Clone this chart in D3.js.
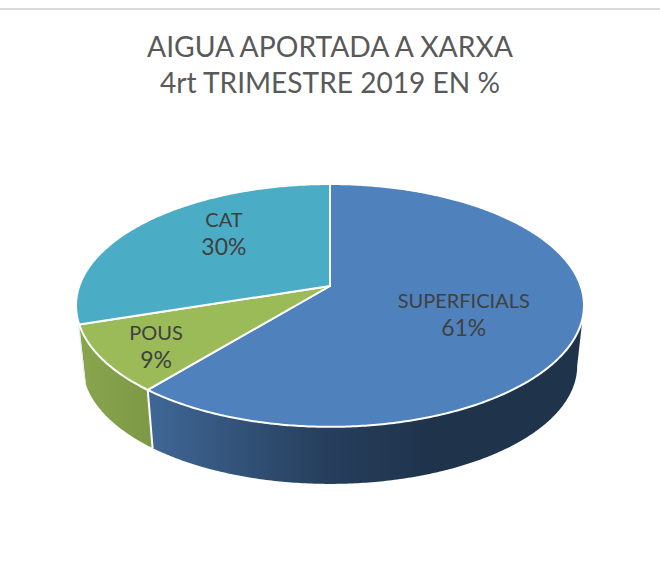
<!DOCTYPE html>
<html>
<head>
<meta charset="utf-8">
<script src="https://cdn.jsdelivr.net/npm/d3@7"></script>
<style>
  html, body { margin: 0; padding: 0; background: #fff; }
  svg { display: block; }
  text { font-family: "Lato", sans-serif; }
</style>
</head>
<body>
<div id="chart"></div>
<script>
const titleLines = ["AIGUA APORTADA A XARXA", "4rt TRIMESTRE 2019 EN %"];
const categories = ["SUPERFICIALS", "POUS", "CAT"];
const values = [61, 9, 30];
const topColors = ["#4f81bd", "#9bbb59", "#4bacc6"];

// where each label sits: fraction of the radius, then a nudge upward
const labelRadius = [0.55, 0.78, 0.55];
const labelLift = [-6, -5, 16];

const width = 660, height = 573;
const svg = d3.select("#chart").append("svg")
  .attr("width", width)
  .attr("height", height);

// top rule
svg.append("line")
  .attr("x1", 0).attr("x2", width)
  .attr("y1", 9).attr("y2", 9)
  .style("stroke", "#d9d9d9")
  .style("stroke-width", 2);

svg.selectAll(".title").data(titleLines).enter().append("text")
  .attr("class", "title")
  .attr("x", 330)
  .attr("y", (d, i) => 57 + i * 36)
  .attr("text-anchor", "middle")
  .attr("textLength", (d, i) => i === 0 ? 366 : 340)
  .attr("lengthAdjust", "spacingAndGlyphs")
  .style("fill", "#595959")
  .style("font-size", "29px")
  .text(d => d);

// gradients for the side wall
const defs = svg.append("defs");
function wallGradient(id, x1, x2, stops) {
  const g = defs.append("linearGradient").attr("id", id)
    .attr("gradientUnits", "userSpaceOnUse")
    .attr("x1", x1).attr("x2", x2).attr("y1", 0).attr("y2", 0);
  stops.forEach(s => g.append("stop").attr("offset", s[0]).attr("stop-color", s[1]));
}
wallGradient("wall-0", 150, 430, [[0, "#3f6796"], [0.6, "#27405e"], [1, "#1f334b"]]);
wallGradient("wall-1", 80, 150, [[0, "#88a54e"], [1, "#7e9945"]]);
wallGradient("wall-2", 76, 84, [[0, "#d3e5ec"], [1, "#e6f0f4"]]);

// pie tilted with some perspective: the back of the disc is further away
const persp = 0.16;
const topDisc = { cx: 330, cy: 286, rx: 250.7, ry: 118.3 };
const baseDisc = { cx: 330, cy: 347, rx: 244, ry: 115 };
function project(disc, angle, f) {
  const s = Math.sin(angle) * f, c = Math.cos(angle) * f;
  const den = 1 + persp * c;
  return [disc.cx + disc.rx * s / den, disc.cy - disc.ry * c / den];
}
function rim(disc, a0, a1) {
  const n = Math.max(2, Math.ceil(Math.abs(a1 - a0) / 0.01));
  return d3.range(n + 1).map(i => project(disc, a0 + (a1 - a0) * i / n, 1));
}

const pie = d3.pie().sort(null).startAngle(0).endAngle(2 * Math.PI);
const slices = pie(values);
const line = d3.line();

// only the front half of the wall shows, from the right to the left silhouette
const wallStart = Math.PI - Math.acos(persp);
const wallEnd = Math.PI + Math.acos(persp);

slices.forEach((d, i) => {
  const a0 = Math.max(d.startAngle, wallStart);
  const a1 = Math.min(d.endAngle, wallEnd);
  if (a1 <= a0) return;
  const pts = rim(topDisc, a0, a1).concat(rim(baseDisc, a0, a1).reverse());
  svg.append("path")
    .attr("d", line(pts) + "Z")
    .style("fill", `url(#wall-${i})`);
});

// seam between the blue and green walls
const seam = slices[0].endAngle;
svg.append("path")
  .attr("d", line([project(topDisc, seam, 1), project(baseDisc, seam, 1)]))
  .style("stroke", "#fff")
  .style("stroke-width", 2)
  .style("fill", "none");

svg.selectAll(".slice").data(slices).enter().append("path")
  .attr("class", "slice")
  .attr("d", d => line([[topDisc.cx, topDisc.cy]].concat(rim(topDisc, d.startAngle, d.endAngle))) + "Z")
  .style("fill", (d, i) => topColors[i])
  .style("stroke", "#fff")
  .style("stroke-width", 2)
  .style("stroke-linejoin", "round");

const labels = svg.selectAll(".label").data(slices).enter().append("text")
  .attr("class", "label")
  .attr("text-anchor", "middle")
  .style("fill", "#404040")
  .attr("transform", (d, i) => {
    const p = project(topDisc, (d.startAngle + d.endAngle) / 2, labelRadius[i]);
    return `translate(${p[0]},${p[1] - labelLift[i]})`;
  });
labels.append("tspan").attr("x", 0).attr("y", -7)
  .style("font-size", "20px")
  .text((d, i) => categories[i]);
labels.append("tspan").attr("x", 0).attr("y", 21)
  .style("font-size", "23px")
  .text(d => d.value + "%");
</script>
</body>
</html>
